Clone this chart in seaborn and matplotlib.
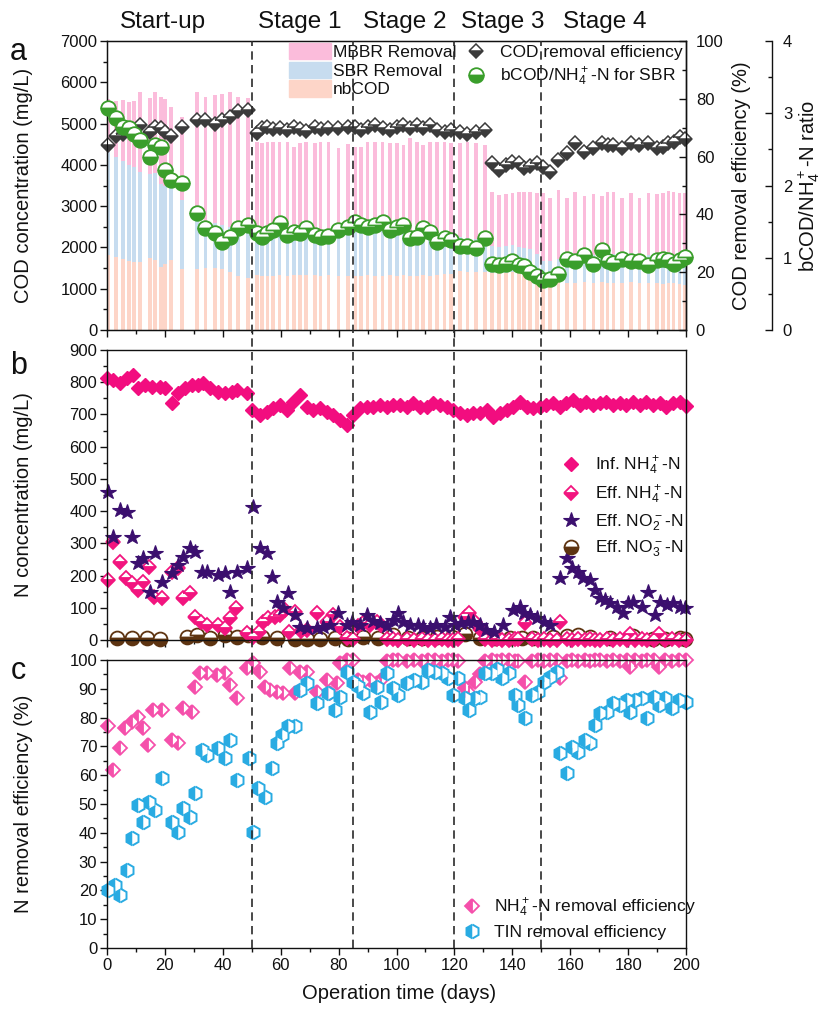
import numpy as np
import matplotlib
matplotlib.use("Agg")
import matplotlib.pyplot as plt
import matplotlib.transforms as mtransforms
from matplotlib.lines import Line2D
from matplotlib.patches import Patch
from matplotlib.ticker import MultipleLocator
import seaborn as sns

sns.set_style("ticks")
plt.rcParams["font.family"] = ["Liberation Sans", "DejaVu Sans"]
plt.rcParams["mathtext.default"] = "regular"
plt.rcParams["text.color"] = "#111111"
plt.rcParams["axes.labelcolor"] = "#111111"
plt.rcParams["xtick.color"] = "#111111"
plt.rcParams["ytick.color"] = "#111111"
plt.rcParams["axes.edgecolor"] = "#111111"

# ---------------- (a) COD balance ----------------
cod_days = [0.5, 3, 5.5, 7.5, 9.3, 11.4, 14.8, 16.6, 18.6, 20, 22, 26, 31, 34, 37.3, 39.7, 42.5, 45.3, 48.8,
            51.7, 53.6, 55.4, 57.4, 59.6, 62.3, 64.6, 66.6, 68.8, 71.8, 73.8, 76.5, 79.9, 83.2,
            85.8, 87.8, 90, 92.6, 95.2, 97.8, 100.2, 102.4, 104.6, 107, 109.2, 111.6, 114, 116.6, 118.8,
            121.9, 124.5, 127.4, 130.6,
            132.9, 135.5, 137.8, 140, 142.2, 144, 146.2, 148.6,
            150.5, 153, 155.9, 158.8, 161.7, 164.9, 168, 170.9, 172.9, 174.9, 177.9, 180.9, 183.9, 187,
            189.9, 192, 193.9, 195.7, 197.8, 199.7]
cod_influent = [5600, 5550, 5570, 5530, 5550, 5770, 5610, 5770, 5650, 5600, 5390, 5150, 5770, 5650, 5690, 5710, 5770, 5650, 5610,
                4560, 4540, 4560, 4560, 4550, 4560, 4440, 4520, 4560, 4520, 4560, 4560, 4400, 4500,
                4440, 4440, 4560, 4560, 4560, 4520, 4520, 4480, 4640, 4560, 4480, 4560, 4560, 4560, 4520,
                4540, 4560, 4540, 4480,
                3350, 3270, 3300, 3320, 3350, 3350, 3350, 3330,
                3325, 3190, 3390, 3190, 3350, 3245, 3290, 3245, 3350, 3350, 3190, 3310, 3190, 3325,
                3290, 3325, 3370, 3350, 3325, 3325]
nbcod = [1816, 1775, 1711, 1678, 1638, 1638, 1735, 1695, 1533, 1600, 1695, 1469, 1469, 1494, 1494, 1469, 1412, 1308, 1251,
         1330, 1310, 1320, 1300, 1330, 1320, 1330, 1330, 1340, 1330, 1320, 1330, 1310, 1320,
         1300, 1320, 1330, 1310, 1320, 1330, 1320, 1330, 1300, 1320, 1330, 1320, 1340, 1350, 1360,
         1420, 1400, 1410, 1400,
         1380, 1370, 1390, 1400, 1370, 1360, 1380, 1330,
         1170, 1150, 1160, 1140, 1130, 1170, 1150, 1160, 1140, 1150, 1130, 1160, 1140, 1150,
         1130, 1120, 1150, 1140, 1110, 1100]
sbr_removal = [2500, 2420, 2390, 2330, 2300, 2190, 2050, 2120, 2010, 1880, 1770, 1670, 1190, 1130, 1090, 1070, 1090, 1190, 1210,
               990, 950, 980, 1000, 1060, 960, 980, 970, 1000, 950, 940, 950, 1000, 1020,
               1080, 1050, 1040, 1050, 1070, 1000, 1030, 1040, 900, 940, 1020, 990, 900, 890, 850,
               830, 830, 800, 900,
               650, 640, 640, 670, 640, 620, 580, 500,
               500, 520, 570, 720, 690, 760, 670, 800, 700, 680, 720, 700, 690, 660,
               710, 720, 700, 670, 710, 730]
cod_removal_eff = [64.0, 67.1, 67.7, 69.2, 68.5, 70.9, 68.6, 70.3, 69.8, 68.5, 67.1, 70.3, 72.7, 72.7, 71.2, 72.7, 73.8, 75.8, 76.1,
                   68.2, 69.8, 70.3, 69.5, 70.0, 69.2, 70.2, 69.5, 69.0, 70.3, 69.5, 70.0, 69.8, 70.3,
                   70.3, 69.2, 70.3, 70.9, 69.8, 69.2, 70.3, 70.9, 69.8, 70.9, 69.8, 70.9, 69.2, 68.6, 69.2,
                   68.6, 68.0, 68.6, 69.2,
                   57.7, 55.4, 57.1, 58.2, 57.7, 55.9, 56.8, 57.7,
                   56.5, 54.8, 58.8, 61.1, 64.6, 61.7, 62.9, 64.6, 64.0, 64.0, 62.9, 64.6, 64.0, 64.6,
                   62.9, 63.4, 64.6, 65.2, 66.9, 66.0]
bcod_nh4_ratio = [3.07, 2.93, 2.81, 2.79, 2.72, 2.63, 2.40, 2.56, 2.54, 2.21, 2.08, 2.03, 1.62, 1.41, 1.34, 1.22, 1.29, 1.41, 1.45,
                  1.34, 1.29, 1.34, 1.38, 1.48, 1.31, 1.36, 1.34, 1.41, 1.31, 1.29, 1.30, 1.38, 1.43,
                  1.50, 1.45, 1.43, 1.45, 1.49, 1.38, 1.43, 1.45, 1.27, 1.29, 1.41, 1.36, 1.22, 1.27, 1.25,
                  1.17, 1.17, 1.13, 1.27,
                  0.92, 0.90, 0.91, 0.95, 0.90, 0.88, 0.81, 0.75,
                  0.69, 0.71, 0.78, 0.99, 0.95, 1.04, 0.92, 1.11, 0.95, 0.93, 0.99, 0.96, 0.95, 0.90,
                  0.97, 0.98, 0.97, 0.92, 0.97, 1.01]

# ---------------- (b) nitrogen species ----------------
inf_nh4_days = [0, 2.2, 4.5, 6.8, 9.1, 10.8, 13.1, 15.4, 18.3, 20, 22.3, 24.6, 26.9, 29.2, 31.5, 33.3, 35.6, 38.4, 40.8, 43,
                44.8, 48.3, 50, 52.8, 55.2, 57.4, 59.8, 62, 64.4, 66.7, 69, 71.3, 73.6, 75.9, 78.2, 80.5, 82.8, 85.1, 87.4, 89.7,
                92, 94.3, 96.6, 98.9,
                101.2, 103.5, 105.8, 108.1, 110.4, 112.7, 115.0, 117.3, 119.6, 121.9, 124.2, 126.5, 128.8, 131.1, 133.4,
                135.7, 138.0, 140.3, 142.6, 144.9, 147.2, 149.5, 151.8, 154.1, 156.4, 158.7, 161.0, 163.3, 165.6, 167.9,
                170.2, 172.5, 174.8, 177.1, 179.4, 181.7, 184.0, 186.3, 188.6, 190.9, 193.2, 195.5, 197.8, 200.0]
inf_nh4 = [812, 807, 797, 812, 822, 781, 791, 786, 786, 781, 735, 766, 781, 791, 791, 797, 781, 771, 766, 771,
           776, 766, 714, 698, 709, 719, 729, 714, 740, 760, 724, 714, 719, 709, 698, 683, 668, 698, 719, 724,
           724, 729, 724, 729,
           729, 724, 735, 724, 724, 735, 729, 724, 714, 704, 698, 704, 704, 714, 693,
           704, 714, 724, 740, 724, 719, 724, 729, 735, 724, 735, 745, 729, 740, 729,
           735, 740, 729, 735, 729, 740, 729, 740, 729, 735, 724, 735, 740, 725]

eff_nh4_days = [0.5, 2.2, 4.5, 6.5, 8.5, 10.8, 12.5, 14.5, 16.2, 18.9, 22.3, 24.6, 26.4, 28.7, 30.4, 32.5, 34.4, 38.4, 40.8,
                42.5, 44.5, 48.5,
                50.5, 52.5, 54, 55.7, 58, 59.8, 61.5, 62.8, 64.9, 67, 69, 72.4, 75.9, 78.2, 80.5, 82.8, 85.1,
                86.6, 88.5, 90.8, 93.1, 94.8, 96.6, 98.9, 100.6, 103.5, 106, 108.7, 111, 113.3, 115.6, 117.9, 119.5,
                121.4, 123.7, 124.9, 127, 128.8, 130.6, 132.9, 134.7, 136.4, 138.7, 141, 142.1, 144.4, 146.7, 149,
                150.8, 153.1, 155.4, 156.5, 158.8, 160.5, 162.8, 165.1, 166.8, 168.5, 170.3, 172.6, 174.9, 177.2,
                179.5, 180.7, 182.4, 184.7, 186.4, 188.8, 190.5, 192.8, 195.1, 197.4, 200]
eff_nh4 = [186, 305, 243, 191, 176, 155, 181, 228, 134, 129, 212, 222, 129, 145, 72, 55, 47, 47, 36,
           67, 98, 22,
           8, 25, 57, 67, 72, 78, 93, 26, 88, 28, 30, 83, 57, 78, 41, 5, 3,
           45, 52, 48, 55, 48, 4, 2, 1, 3, 1, 2, 0, 1, 2, 0, 1,
           3, 70, 83, 55, 35, 3, 1, 2, 0, 1, 3, 4, 52, 3, 1,
           2, 0, 1, 57, 3, 1, 2, 0, 3, 1, 0, 2, 1, 3,
           0, 18, 1, 2, 0, 1, 18, 0, 3, 1, 0]

eff_no2_days = [0.5, 2.2, 4.5, 6.8, 8.5, 10.8, 12.5, 14.8, 16.6, 18.9, 22.3, 24.6, 26.4, 28.7, 30.4, 32.7, 34.4, 38.4,
                40.8, 42.5, 44.8, 48.3, 50.5, 52.8, 55.2, 57, 58.6, 60.9, 62.6, 64.9, 66.7, 69, 72.4, 74.5, 77, 79.9,
                82.8, 84.5,
                87.4, 89.7, 92, 94.3, 96.6, 98.9, 100.6, 102.3, 104.6, 107.5, 109.2, 111.5, 113.8, 116.7, 118.4,
                120.1, 122.4, 124.7, 126.4, 128.7, 131, 133.5, 136.8, 140.4, 142.7, 143.9, 146.2, 148.5, 150.8,
                153.1, 156.5, 158.8, 160.5, 162.8, 164.5, 166.8, 168.5, 170.3, 172, 173.7, 176, 178.3, 180.1,
                181.8, 184.7, 187, 189.3, 191, 193.3, 195.6, 197.9, 199.6]
eff_no2 = [460, 321, 403, 398, 321, 238, 254, 150, 269, 181, 207, 233, 259, 285, 274, 212, 212, 202,
           207, 150, 212, 222, 414, 285, 269, 196, 119, 98, 145, 78, 41, 36, 36, 40, 47, 83,
           47, 57,
           47, 78, 60, 52, 45, 62, 83, 57, 47, 47, 41, 36, 47, 41, 72,
           47, 52, 57, 57, 47, 31, 25, 47, 93, 103, 83, 78, 67, 57,
           47, 191, 253, 222, 212, 191, 186, 155, 129, 124, 114, 103, 83, 114,
           119, 103, 150, 78, 119, 109, 114, 103, 98]

eff_no3_days = [3.3, 8.5, 13.7, 18.3, 27.5, 31, 35.6, 40.8, 44.8, 48.8, 53.4, 58.6, 64.9, 69, 73.6, 78.8, 83.4, 88.5,
                93.7, 98.9, 104.1, 108.7, 113.9, 119.1, 123.7, 128.8, 134, 139.2, 143.2, 147.3, 154.2, 158.8,
                162.8, 166.8, 173.8, 181.8, 188.7, 192.7, 197.9, 199.7]
eff_no3 = [5, 5, 5, 4, 8, 15, 5, 15, 8, 15, 8, 5, 4, 4, 4, 5, 3, 10,
           5, 15, 6, 5, 8, 8, 18, 5, 5, 5, 5, 5, 8, 12,
           15, 8, 5, 12, 3, 3, 5, 3]

# ---------------- (c) nitrogen removal ----------------
nh4_rem_days = [0.5, 2.2, 4.5, 6.2, 8.5, 10.8, 12.5, 14.3, 16, 18.9, 22.3, 24.6, 26.4, 29.2, 30.4, 32.1, 34.4, 37.9,
                40.8, 42.5, 44.8, 48.3, 50.5, 52.8, 54.6, 56.3, 58.6, 60.9, 63.2, 64.9, 66.7, 69, 72.4, 75.9, 77,
                79.3, 80.5, 82.8, 85.1,
                86.6, 88.5, 90.8, 93.1, 94.8, 96.6, 98.9, 100.6, 103.5, 106, 108.7, 111, 113.3, 115.6, 117.9, 119.5,
                121.4, 123.7, 124.9, 127, 128.8, 130.6, 132.9, 134.7, 136.4, 138.7, 141, 142.1, 144.4, 146.7, 149,
                150.8, 153.1, 155.4, 156.5, 158.8, 160.5, 162.8, 165.1, 166.8, 168.5, 170.3, 172.6, 174.9, 177.2,
                179.5, 180.7, 182.4, 184.7, 186.4, 188.8, 190.5, 192.8, 195.1, 197.4, 200]
nh4_rem_eff = [76.9, 61.8, 69.3, 76.3, 78.6, 80.3, 76.3, 70.5, 82.6, 82.6, 72.2, 71.1, 83.2, 82.1, 90.7, 95.4, 95.4, 94.8,
               95.4, 91.3, 86.7, 97.1, 98.8, 95.9, 90.7, 89.6, 89.0, 88.4, 97.1, 88.4, 95.9, 95.9, 89.0, 93.1, 88.4,
               92.0, 98.8, 100, 100,
               93.0, 92.5, 93.0, 92.0, 93.0, 99.5, 100, 100, 99.6, 100, 99.8, 100, 100, 99.7, 100, 100,
               99.5, 90.2, 88.5, 92.5, 95.0, 99.5, 100, 99.8, 100, 100, 99.6, 99.5, 92.5, 99.5, 100,
               99.8, 100, 100, 93.6, 99.5, 100, 99.8, 100, 99.6, 100, 100, 99.7, 100, 99.5,
               100, 97.5, 100, 99.8, 100, 100, 97.5, 100, 99.6, 100, 100]

tin_days = [0.5, 2.8, 4.5, 6.8, 8.5, 10.8, 12.5, 14.6, 16.6, 18.9, 22.3, 24.6, 26.4, 28.7, 30.4, 32.7, 34.4, 38.4,
            40.8, 42.5, 44.8, 48.9, 50.5, 52.2, 54.6, 56.9, 58.6, 60.3, 62.6, 64.9, 66.7, 69, 72.4, 76.4, 78.7,
            80.5, 82.8, 85.1,
            86.6, 88.5, 90.8, 93.1, 94.8, 96.6, 98.9, 100.6, 103.5, 106, 108.7, 111, 113.3, 115.6, 117.9, 119.5,
            121.4, 123.7, 124.9, 127, 128.8, 130.6, 132.9, 134.7, 136.4, 138.7, 141, 142.1, 144.4, 146.7, 149,
            150.8, 153.1, 155.4, 156.5, 158.8, 160.5, 162.8, 165.1, 166.8, 168.5, 170.3, 172.6, 174.9, 177.2,
            179.5, 180.7, 182.4, 184.7, 186.4, 188.8, 190.5, 192.8, 195.1, 197.4, 200]
tin_rem_eff = [20.1, 21.9, 18.4, 27.1, 38.1, 49.7, 43.9, 50.8, 47.9, 58.9, 43.9, 40.4, 48.5, 45.6, 53.7, 68.8, 67.0, 69.3,
               65.9, 72.2, 58.3, 65.9, 40.4, 55.4, 52.5, 62.4, 71.1, 74.0, 76.9, 76.9, 89.6, 91.9, 85.0, 88.4, 82.6,
               87.3, 95.9, 92.5,
               91.0, 88.4, 82.1, 90.7, 85.5, 95.4, 90.2, 87.8, 91.9, 93.0, 92.5, 96.5, 95.9, 95.4, 93.6, 87.8,
               93.6, 86.7, 82.6, 86.7, 87.3, 95.4, 95.4, 97.0, 93.6, 95.4, 87.8, 84.3, 79.7, 87.8, 89.0,
               92.5, 94.2, 95.9, 67.6, 60.6, 69.9, 68.2, 72.2, 71.1, 77.5, 81.5, 82.1, 85.0, 84.5,
               86.1, 82.1, 86.1, 86.7, 79.7, 87.3, 84.5, 86.7, 83.2, 86.1, 85.5]

stage_bounds = [50, 85, 120, 150]
stage_names = ["Start-up", "Stage 1", "Stage 2", "Stage 3", "Stage 4"]

# ---------------- styling ----------------
MBBR_C, SBR_C, NBCOD_C = "#fbbcdb", "#c7dcef", "#fdd5c8"
DARK, GREEN = "#3b3b3b", "#3a9e2b"
INF_C, EFF_C, NO2_C, NO3_C = "#f20d7f", "#f2157f", "#3b0f6e", "#5e3411"
NH4R_C, TIN_C = "#f550ab", "#29abe2"

fig = plt.figure(figsize=(8.22, 10.13), dpi=100)
fig.patch.set_facecolor("white")
L, W = 0.1302, 0.7044
ax_a = fig.add_axes([L, 0.6742, W, 0.2853])
ax_b = fig.add_axes([L, 0.3682, W, 0.2863])
ax_c = fig.add_axes([L, 0.0642, W, 0.2843])
ax_eff = ax_a.twinx()
ax_ratio = ax_a.twinx()


def dots(ax, x, y, marker, color, fill, size, ew=1.2, edge=None):
    sns.lineplot(x=np.asarray(x, float), y=np.asarray(y, float), ax=ax, marker=marker, linestyle="",
                 color=color, markersize=size, fillstyle=fill, markerfacecoloralt="white",
                 markeredgecolor=edge or color, markeredgewidth=ew, estimator=None,
                 errorbar=None, sort=False, legend=False, clip_on=False)


def proxy(marker, color, fill, size, ew=1.2, edge=None):
    return Line2D([], [], marker=marker, linestyle="", color=color, markersize=size, fillstyle=fill,
                  markerfacecoloralt="white", markeredgecolor=edge or color, markeredgewidth=ew)


# stacked COD bars: influent (pink), nbCOD + SBR share (blue), nbCOD (peach)
cd = np.asarray(cod_days, float)
nb = np.asarray(nbcod, float)
sb = np.asarray(sbr_removal, float)
bar_w = 1.25 / np.min(np.diff(np.unique(cd)))
for vals, col in [(np.asarray(cod_influent, float), MBBR_C), (nb + sb, SBR_C), (nb, NBCOD_C)]:
    sns.barplot(x=cd, y=vals, ax=ax_a, native_scale=True, orient="x", width=bar_w, color=col,
                saturation=1, errorbar=None, linewidth=0)

dots(ax_eff, cod_days, cod_removal_eff, "D", DARK, "bottom", 7.6, 1.1)
dots(ax_ratio, cod_days, bcod_nh4_ratio, "o", GREEN, "bottom", 10.5, 1.3)

# panel b
dots(ax_b, eff_no3_days, eff_no3, "o", NO3_C, "bottom", 10, 1.3)
dots(ax_b, eff_nh4_days, eff_nh4, "D", EFF_C, "bottom", 7.4, 1.3)
dots(ax_b, eff_no2_days, eff_no2, "*", NO2_C, "full", 11.5, 0.8)
dots(ax_b, inf_nh4_days, inf_nh4, "D", INF_C, "full", 7.0, 1.0)

# panel c
dots(ax_c, nh4_rem_days, nh4_rem_eff, "D", NH4R_C, "left", 7.4, 1.3)
dots(ax_c, tin_days, tin_rem_eff, "h", TIN_C, "left", 10, 1.4)

# axes limits and ticks
for ax in (ax_a, ax_b, ax_c):
    ax.set_xlim(0, 200)
    ax.xaxis.set_major_locator(MultipleLocator(20))
    ax.xaxis.set_minor_locator(MultipleLocator(10))
    ax.tick_params(axis="both", which="both", direction="out", top=False, right=False, labelsize=12,
                   width=1.0, pad=2)
    ax.tick_params(which="major", length=5)
    ax.tick_params(which="minor", length=3)
    for s in ax.spines.values():
        s.set_linewidth(1.0)
        s.set_visible(True)
    ax.set_xlabel("")
    ax.set_ylabel("")

ax_a.set_ylim(0, 7000)
ax_a.yaxis.set_major_locator(MultipleLocator(1000))
ax_a.yaxis.set_minor_locator(MultipleLocator(500))
ax_b.set_ylim(0, 900)
ax_b.yaxis.set_major_locator(MultipleLocator(100))
ax_b.yaxis.set_minor_locator(MultipleLocator(50))
ax_c.set_ylim(0, 100)
ax_c.yaxis.set_major_locator(MultipleLocator(10))
ax_c.yaxis.set_minor_locator(MultipleLocator(5))
ax_a.tick_params(axis="x", labelbottom=False)
ax_b.tick_params(axis="x", labelbottom=False)

ax_eff.set_ylim(0, 100)
ax_eff.yaxis.set_major_locator(MultipleLocator(20))
ax_eff.yaxis.set_minor_locator(MultipleLocator(10))
ax_ratio.set_ylim(0, 4)
ax_ratio.yaxis.set_major_locator(MultipleLocator(1))
ax_ratio.yaxis.set_minor_locator(MultipleLocator(0.5))
ax_ratio.spines["right"].set_position(("axes", 1.148))
for s in ("top", "left", "bottom"):
    ax_ratio.spines[s].set_visible(False)
for ax, pad in ((ax_eff, 7), (ax_ratio, 8)):
    ax.set_xlim(0, 200)
    ax.tick_params(axis="y", which="both", direction="in", left=False, right=True, labelsize=12,
                   width=1.0, pad=pad)
    ax.tick_params(axis="y", which="major", length=5)
    ax.tick_params(axis="y", which="minor", length=3)
    ax.spines["right"].set_linewidth(1.0)
    ax.set_xlabel("")

# axis titles
ax_a.set_ylabel("COD concentration (mg/L)", fontsize=14.5)
ax_b.set_ylabel("N concentration (mg/L)", fontsize=14.5)
ax_c.set_ylabel("N removal efficiency (%)", fontsize=14.5)
for ax in (ax_a, ax_b, ax_c):
    ax.yaxis.set_label_coords(-0.128, 0.5)
ax_eff.set_ylabel("COD removal efficiency (%)", fontsize=14.5)
ax_eff.yaxis.set_label_coords(1.079, 0.5)
ax_ratio.set_ylabel("bCOD/NH$_4^+$-N ratio", fontsize=14.5)
ax_ratio.yaxis.set_label_coords(1.19, 0.5)
ax_c.set_xlabel("Operation time (days)", fontsize=14.5)
ax_c.xaxis.set_label_coords(0.505, -0.125)

# legends
ax_a.legend(handles=[Patch(color=MBBR_C), Patch(color=SBR_C), Patch(color=NBCOD_C)],
            labels=["MBBR Removal", "SBR Removal", "nbCOD"], loc="upper left",
            bbox_to_anchor=(0.314, 0.993), frameon=False, fontsize=12.5, handlelength=2.4,
            handleheight=1.05, handletextpad=0.15, labelspacing=0.1, borderpad=0, borderaxespad=0)
ax_ratio.legend(handles=[proxy("D", DARK, "bottom", 7.6, 1.1), proxy("o", GREEN, "bottom", 10.5, 1.3)],
                labels=["COD removal efficiency", "bCOD/NH$_4^+$-N for SBR"], loc="upper left",
                bbox_to_anchor=(0.623, 0.986), frameon=False, fontsize=12.5, handlelength=1.0,
                handletextpad=0.85, labelspacing=0.3, borderpad=0, borderaxespad=0)
ax_b.legend(handles=[proxy("D", INF_C, "full", 7.0, 1.0), proxy("D", EFF_C, "bottom", 7.4, 1.3),
                     proxy("*", NO2_C, "full", 11.5, 0.8), proxy("o", NO3_C, "bottom", 10, 1.3)],
            labels=["Inf. NH$_4^+$-N", "Eff. NH$_4^+$-N", "Eff. NO$_2^-$-N", "Eff. NO$_3^-$-N"],
            loc="upper left", bbox_to_anchor=(0.786, 0.638), frameon=False, fontsize=12.5,
            handlelength=1.0, handletextpad=0.9, labelspacing=0.35, borderpad=0, borderaxespad=0)
ax_c.legend(handles=[proxy("D", NH4R_C, "left", 7.4, 1.3), proxy("h", TIN_C, "left", 10, 1.4)],
            labels=["NH$_4^+$-N removal efficiency", "TIN removal efficiency"],
            loc="upper left", bbox_to_anchor=(0.616, 0.177), frameon=False, fontsize=12.5,
            handlelength=1.0, handletextpad=0.75, labelspacing=0.3, borderpad=0, borderaxespad=0)

# stage boundaries running through all three panels
vtrans = mtransforms.blended_transform_factory(ax_c.transData, fig.transFigure)
for d in stage_bounds:
    fig.add_artist(Line2D([d, d], [0.0642, 0.9595], transform=vtrans, color="#2a2a2a", lw=1.2,
                          ls=(0, (5, 3.2)), zorder=5))

# stage names above the top panel
ttrans = mtransforms.blended_transform_factory(ax_a.transData, fig.transFigure)
for xc, name in zip([19.2, 66.5, 103, 136.8, 172], stage_names):
    fig.text(xc, 0.978, name, transform=ttrans, ha="center", va="center", fontsize=17.5)

for letter, yy in (("a", 52), ("b", 366), ("c", 671)):
    fig.text(0.022, 1 - yy / 1013, letter, ha="center", va="center", fontsize=22)

fig.savefig("out.png", dpi=100, facecolor="white")
